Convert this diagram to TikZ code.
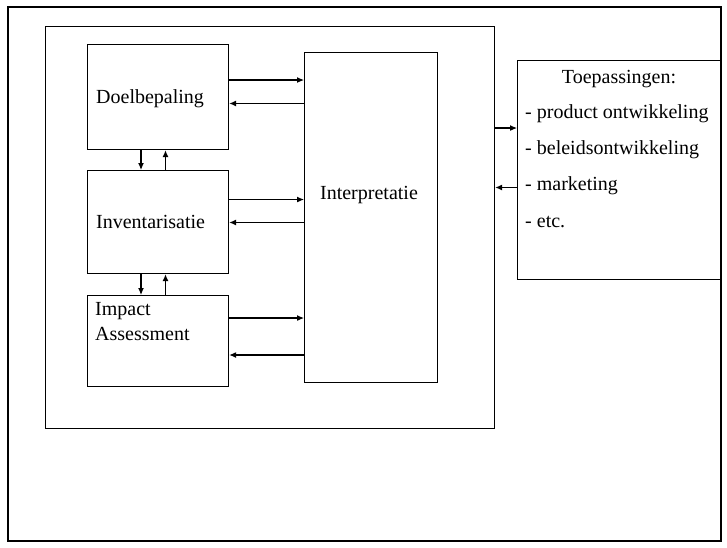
\documentclass[tikz,border=0pt]{standalone}
\usepackage{fontspec}
\setmainfont{Liberation Serif}
\usetikzlibrary{arrows.meta}
\begin{document}
\begin{tikzpicture}[x=1pt, y=-1pt, font=\fontsize{20}{25}\selectfont,
    box/.style={draw=black, line width=1.2pt, rectangle, anchor=north west, inner sep=0pt},
    arr/.style={-{Latex[length=7pt,width=6pt]}, black, line width=1.1pt}]
                \useasboundingbox (0,0) rectangle (727,547);
                \draw[black, line width=1.2pt] (8,7) rectangle (721,541);
                \node[box, minimum width=449pt, minimum height=402pt] (lca) at (45,26) {};
                \node[box, minimum width=141pt, minimum height=105pt] (doel) at (87,44) {};
                \node[box, minimum width=141pt, minimum height=103pt] (inv) at (87,170) {};
                \node[box, minimum width=141pt, minimum height=91pt] (imp) at (87,295) {};
                \node[box, minimum width=133pt, minimum height=330pt] (int) at (304,52) {};
                \node[box, minimum width=203pt, minimum height=219pt] (toep) at (517,60) {};
                \node[anchor=west, inner sep=0pt] (doeltxt) at (96,99) {Doelbepaling};
                \node[anchor=west, inner sep=0pt] (invtxt) at (96,222) {Inventarisatie};
                \node[anchor=north west, align=left, inner sep=0pt] (imptxt) at (95,302) {Impact\\Assessment};
                \node (inttxt) at (369,195) {Interpretatie};
                \node (toeptxt) at (619,79) {Toepassingen:};
                \foreach \t [count=\i] in {- product ontwikkeling, - beleidsontwikkeling, - marketing, - etc.}
                    \node[anchor=west, inner sep=0pt] (item\i) at (525,78+36*\i) {\t};
                % naar en van de interpretatie
                \draw[arr] (doel.east |- 0,80) -- (int.west |- 0,80);
                \draw[arr] (int.west |- 0,103.5) -- (doel.east |- 0,103.5);
                \draw[arr] (inv.east |- 0,199.5) -- (int.west |- 0,199.5);
                \draw[arr] (int.west |- 0,222.5) -- (inv.east |- 0,222.5);
                \draw[arr] (imp.east |- 0,318) -- (int.west |- 0,318);
                \draw[arr] (int.west |- 0,355) -- (imp.east |- 0,355);
                % tussen de fasen
                \draw[arr] (doel.south -| 141,0) -- (inv.north -| 141,0);
                \draw[arr] (inv.north -| 165.5,0) -- (doel.south -| 165.5,0);
                \draw[arr] (inv.south -| 141,0) -- (imp.north -| 141,0);
                \draw[arr] (imp.north -| 165.5,0) -- (inv.south -| 165.5,0);
                % toepassingen
                \draw[arr] (lca.east |- 0,128) -- (toep.west |- 0,128);
                \draw[arr] (toep.west |- 0,187.5) -- (lca.east |- 0,187.5);
            \end{tikzpicture}
\end{document}
